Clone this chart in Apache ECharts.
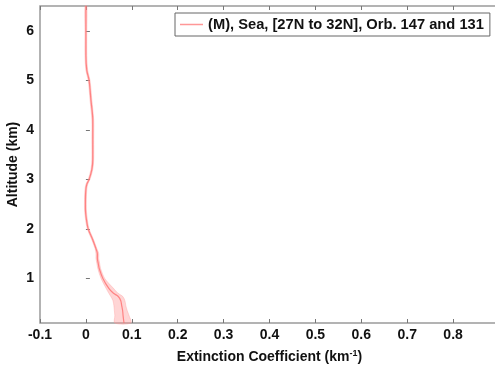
<!DOCTYPE html>
<html><head><meta charset="utf-8">
<script src="https://cdn.jsdelivr.net/npm/echarts@6/dist/echarts.min.js"></script>
<style>html,body{margin:0;padding:0;background:#fff}#c{width:495px;height:369px}</style>
</head><body><div id="c"></div>
<script>
const seriesName = '(M), Sea, [27N to 32N], Orb. 147 and 131';
const altitude = [6.5, 6.0, 5.5, 5.2, 5.0, 4.6, 4.2, 3.8, 3.4, 3.2, 3.0, 2.9, 2.8, 2.6, 2.4, 2.2, 2.0, 1.8, 1.6, 1.5, 1.4, 1.3, 1.2, 1.0, 0.8, 0.7, 0.64, 0.55, 0.45, 0.35, 0.25, 0.1];
const extMean  = [0.0, 0.0, 0.0, 0.002, 0.007, 0.011, 0.015, 0.015, 0.015, 0.013, 0.007, 0.002, 0.0, -0.001, -0.001, 0.001, 0.005, 0.014, 0.022, 0.025, 0.025, 0.027, 0.029, 0.037, 0.050, 0.060, 0.070, 0.076, 0.078, 0.080, 0.081, 0.083];
const extLow   = [-0.002, -0.002, -0.002, 0.0, 0.005, 0.009, 0.013, 0.013, 0.013, 0.011, 0.005, 0.0, -0.002, -0.003, -0.003, -0.001, 0.003, 0.012, 0.020, 0.022, 0.022, 0.024, 0.026, 0.033, 0.044, 0.050, 0.054, 0.059, 0.061, 0.062, 0.063, 0.063];
const extHigh  = [0.002, 0.002, 0.002, 0.004, 0.009, 0.013, 0.017, 0.017, 0.017, 0.015, 0.009, 0.004, 0.002, 0.001, 0.001, 0.003, 0.007, 0.016, 0.024, 0.028, 0.028, 0.030, 0.032, 0.041, 0.060, 0.070, 0.080, 0.085, 0.087, 0.090, 0.094, 0.098];
const xTicks = {min: -0.1, max: 0.9, step: 0.1};
const yRange = {min: 0.1, max: 6.5};

const lineData = altitude.map((a, i) => [extMean[i], a]);
const bandData = altitude.map((a, i) => [extLow[i], extHigh[i], a]);

const font = '"Liberation Sans", Arial, sans-serif';
const chart = echarts.init(document.getElementById('c'));
chart.setOption({
  animation: false,
  grid: {left: 40, top: 6, width: 459, height: 317, outerBoundsMode: 'none', containLabel: false, show: true, borderColor: '#9a9a9a', borderWidth: 1.5, backgroundColor: '#fff'},
  legend: {
    data: [{name: seriesName, icon: 'rect'}],
    top: 13, left: 175, itemWidth: 23, itemHeight: 1.5, itemGap: 4,
    borderColor: '#666', borderWidth: 1, padding: [4, 6, 4, 5], backgroundColor: '#fff',
    textStyle: {fontFamily: font, fontWeight: 'bold', fontSize: 14.7, color: '#111'}
  },
  xAxis: [{
    type: 'value', min: xTicks.min, max: xTicks.max, interval: xTicks.step,
    axisLine: {show: false}, splitLine: {show: false},
    axisTick: {inside: true, length: 4, lineStyle: {color: '#777'}},
    axisLabel: {showMaxLabel: false, fontFamily: font, fontWeight: 'bold', fontSize: 14, color: '#111', margin: 5,
      formatter: v => { const r = Math.round(v * 10) / 10; return r === 0 ? '0' : String(r); }},
    name: '{a|Extinction Coefficient (km}{s|-1}{a|)}', nameLocation: 'middle', nameGap: 26, nameMoveOverlap: false,
    nameTextStyle: {rich: {a: {fontFamily: font, fontWeight: 'bold', fontSize: 14, color: '#111'}, s: {fontFamily: font, fontWeight: 'bold', fontSize: 9, color: '#111', verticalAlign: 'top', padding: [0, 0, 8, 0]}}}
  }, {
    type: 'value', position: 'top', min: xTicks.min, max: xTicks.max, interval: xTicks.step,
    axisLine: {show: false}, splitLine: {show: false}, axisLabel: {show: false},
    axisTick: {inside: true, length: 4, lineStyle: {color: '#777'}}
  }],
  yAxis: {
    type: 'value', min: yRange.min, max: yRange.max, splitNumber: 6,
    axisLine: {show: false}, splitLine: {show: false},
    axisTick: {inside: true, length: 4, lineStyle: {color: '#777'}},
    axisLabel: {showMinLabel: false, showMaxLabel: false, fontFamily: font, fontWeight: 'bold', fontSize: 14, color: '#111', margin: 6},
    name: 'Altitude (km)', nameLocation: 'middle', nameGap: 20, nameMoveOverlap: false,
    nameTextStyle: {fontFamily: font, fontWeight: 'bold', fontSize: 14, color: '#111'}
  },
  series: [{
    type: 'custom', name: 'band', silent: true, z: 1,
    data: bandData,
    renderItem: function (params, api) {
      if (params.dataIndex !== 0) return;
      const pts = [];
      bandData.forEach(d => pts.push(api.coord([d[0], d[2]])));
      for (let i = bandData.length - 1; i >= 0; i--) pts.push(api.coord([bandData[i][1], bandData[i][2]]));
      return {type: 'polygon', shape: {points: pts, smooth: 0.3}, style: {fill: 'rgba(255,150,150,0.4)', stroke: 'rgba(255,150,150,0.45)', lineWidth: 0.8}};
    },
    encode: {x: 0, y: 2}
  }, {
    type: 'line', name: seriesName, data: lineData, showSymbol: false, smooth: 0.3, z: 3,
    lineStyle: {color: 'rgba(255,110,110,0.8)', width: 1.2}, itemStyle: {color: 'rgba(255,140,140,0.9)'}
  }]
});
</script></body></html>
